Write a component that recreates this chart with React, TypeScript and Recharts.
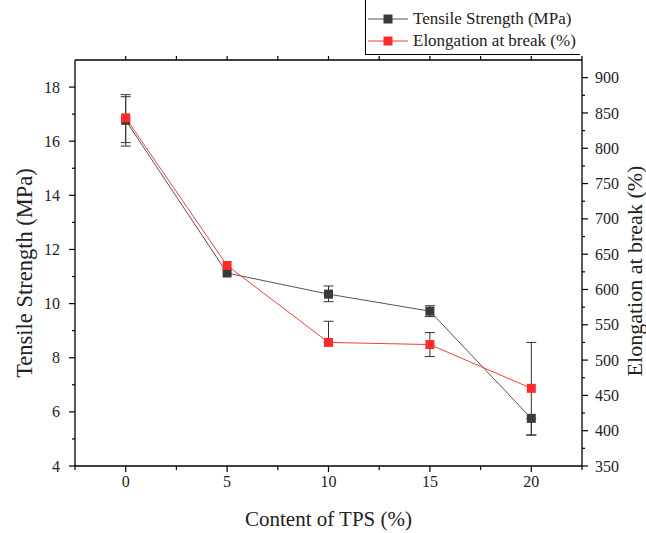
import { ComposedChart, ErrorBar, Legend, Line, XAxis, YAxis } from 'recharts'

// Tensile strength and elongation at break vs. TPS content, Origin-style double-Y plot.
const TPS_CONTENT = [0, 5, 10, 15, 20]
const TENSILE_MPA = [16.77, 11.13, 10.35, 9.72, 5.76]
const TENSILE_ERR = [[0.95, 0.95], null, [0.28, 0.3], [0.2, 0.2], [0.62, 0]]
const ELONGATION_PCT = [843, 634, 525, 522, 460]
const ELONGATION_ERR = [[35, 30], null, [0, 30], [17, 17], [66, 65]]

const X_TICKS = [-2.5, 0, 2.5, 5, 7.5, 10, 12.5, 15, 17.5, 20, 22.5]
const LEFT_TICKS = [4, 5, 6, 7, 8, 9, 10, 11, 12, 13, 14, 15, 16, 17, 18]
const RIGHT_TICKS = [
  350, 375, 400, 425, 450, 475, 500, 525, 550, 575, 600, 625, 650, 675, 700, 725, 750, 775, 800,
  825, 850, 875, 900,
]
const LEGEND_ORDER = ['tensile', 'elongation']

const FONT = '"Liberation Serif", "Times New Roman", serif'
const TEXT_COLOR = '#222'
const AXIS_COLOR = '#000'
const TEXT_STYLE = { fontFamily: FONT }

const SERIES = {
  tensile: { line: '#555', marker: '#3a3a3a' },
  elongation: { line: '#ee4040', marker: '#ff2a2a' },
}

const data = TPS_CONTENT.map((tps, i) => ({
  tps,
  tensile: TENSILE_MPA[i],
  tensileErr: TENSILE_ERR[i],
  elongation: ELONGATION_PCT[i],
  elongationErr: ELONGATION_ERR[i],
}))

const LEFT_MARGIN = 15
const RIGHT_MARGIN = 13
const BOTTOM_MARGIN = 9

function LeftTick({ x, y, payload }: any) {
  const axisX = x + LEFT_MARGIN
  const major = payload.value % 2 === 0
  return (
    <g>
      <line x1={axisX} x2={axisX - (major ? 6 : 3)} y1={y} y2={y} stroke={AXIS_COLOR} strokeWidth={1.2} />
      {major && (
        <text x={x} y={y} dy="0.35em" textAnchor="end" fontSize={16} style={TEXT_STYLE} fill={TEXT_COLOR}>
          {payload.value}
        </text>
      )}
    </g>
  )
}

function RightTick({ x, y, payload }: any) {
  const axisX = x - RIGHT_MARGIN
  const major = payload.value % 50 === 0
  return (
    <g>
      <line x1={axisX} x2={axisX + (major ? 6 : 3)} y1={y} y2={y} stroke={AXIS_COLOR} strokeWidth={1.2} />
      {major && (
        <text x={x} y={y} dy="0.35em" textAnchor="start" fontSize={16} style={TEXT_STYLE} fill={TEXT_COLOR}>
          {payload.value}
        </text>
      )}
    </g>
  )
}

function BottomTick({ x, y, payload }: any) {
  const axisY = y - BOTTOM_MARGIN
  const major = payload.value % 5 === 0
  return (
    <g>
      <line x1={x} x2={x} y1={axisY} y2={axisY + (major ? 6 : 4)} stroke={AXIS_COLOR} strokeWidth={1.2} />
      {major && (
        <text x={x} y={y} dy="0.75em" textAnchor="middle" fontSize={16} style={TEXT_STYLE} fill={TEXT_COLOR}>
          {payload.value}
        </text>
      )}
    </g>
  )
}

function TopTick({ x, y }: any) {
  return <line x1={x} x2={x} y1={y} y2={y - 4} stroke={AXIS_COLOR} strokeWidth={1.2} />
}

function AxisTitle({ viewBox, value, dx = 0, dy = 0, size = 20, rotate = false }: any) {
  const cx = viewBox.x + viewBox.width / 2 + dx
  const cy = viewBox.y + viewBox.height / 2 + dy
  return (
    <text
      x={cx}
      y={cy}
      dy="0.35em"
      textAnchor="middle"
      fontSize={size}
      style={TEXT_STYLE}
      fill={TEXT_COLOR}
      transform={rotate ? `rotate(-90, ${cx}, ${cy})` : undefined}
    >
      {value}
    </text>
  )
}

function SquareDot({ cx, cy, fill }: any) {
  if (cx == null || cy == null) return null
  return <rect x={cx - 4.5} y={cy - 4.5} width={9} height={9} fill={fill} />
}

function LegendBox({ payload }: any) {
  const entries = [...(payload ?? [])].sort(
    (a: any, b: any) => LEGEND_ORDER.indexOf(a.dataKey) - LEGEND_ORDER.indexOf(b.dataKey),
  )
  return (
    <div
      style={{
        borderLeft: '1px solid #000',
        borderBottom: '1px solid #000',
        height: 55,
        boxSizing: 'border-box',
        paddingTop: 8,
        fontFamily: FONT,
        fontSize: 17,
        color: TEXT_COLOR,
      }}
    >
      {entries.map((entry: any) => {
        const style = SERIES[entry.dataKey as keyof typeof SERIES]
        return (
          <div key={entry.dataKey} style={{ display: 'flex', alignItems: 'center', height: 22 }}>
            <svg width={44} height={12} style={{ marginRight: 3 }}>
              <line x1={2} x2={42} y1={6} y2={6} stroke={style.line} strokeWidth={1} />
              <rect x={17.5} y={1.5} width={9} height={9} fill={style.marker} />
            </svg>
            <span style={{ whiteSpace: 'nowrap' }}>{entry.value}</span>
          </div>
        )
      })}
    </div>
  )
}

export default function App() {
  return (
    <div style={{ position: 'absolute', left: 0, top: 0, background: '#fff' }}>
      <ComposedChart width={646} height={533} data={data} margin={{ top: 50, right: 0, bottom: 0, left: 0 }}>
        <XAxis
          xAxisId="bottom"
          dataKey="tps"
          type="number"
          domain={[-2.5, 22.5]}
          ticks={X_TICKS}
          interval={0}
          height={67}
          tickSize={0}
          tickMargin={BOTTOM_MARGIN}
          tick={<BottomTick />}
          axisLine={{ stroke: AXIS_COLOR, strokeWidth: 1.3 }}
          label={<AxisTitle value="Content of TPS (%)" dy={19} size={21} />}
        />
        <XAxis
          xAxisId="top"
          orientation="top"
          dataKey="tps"
          type="number"
          domain={[-2.5, 22.5]}
          ticks={X_TICKS.slice(1)}
          interval={0}
          height={10}
          tickSize={0}
          tickMargin={0}
          tick={<TopTick />}
          axisLine={{ stroke: AXIS_COLOR, strokeWidth: 1.3 }}
        />
        <YAxis
          yAxisId="left"
          domain={[4, 19]}
          ticks={LEFT_TICKS}
          interval={0}
          width={75}
          tickSize={0}
          tickMargin={LEFT_MARGIN}
          tick={<LeftTick />}
          axisLine={{ stroke: AXIS_COLOR, strokeWidth: 1.3 }}
          label={<AxisTitle value="Tensile Strength (MPa)" dx={-13} dy={10} size={22.5} rotate />}
        />
        <YAxis
          yAxisId="right"
          orientation="right"
          domain={[350, 925]}
          ticks={RIGHT_TICKS}
          interval={0}
          width={64}
          tickSize={0}
          tickMargin={RIGHT_MARGIN}
          tick={<RightTick />}
          axisLine={{ stroke: AXIS_COLOR, strokeWidth: 1.3 }}
          label={<AxisTitle value="Elongation at break (%)" dx={20} dy={8} size={22} rotate />}
        />
        <Legend
          layout="vertical"
          align="center"
          verticalAlign="middle"
          wrapperStyle={{ position: 'absolute', left: 365, top: 0, width: 215, height: 55 }}
          content={<LegendBox />}
        />
        <Line
          xAxisId="bottom"
          yAxisId="left"
          dataKey="tensile"
          name="Tensile Strength (MPa)"
          stroke={SERIES.tensile.line}
          strokeWidth={1}
          dot={<SquareDot fill={SERIES.tensile.marker} />}
          activeDot={false}
          isAnimationActive={false}
        >
          <ErrorBar dataKey="tensileErr" width={5} stroke="#333" strokeWidth={1} direction="y" />
        </Line>
        <Line
          xAxisId="bottom"
          yAxisId="right"
          dataKey="elongation"
          name="Elongation at break (%)"
          stroke={SERIES.elongation.line}
          strokeWidth={1}
          dot={<SquareDot fill={SERIES.elongation.marker} />}
          activeDot={false}
          isAnimationActive={false}
        >
          <ErrorBar dataKey="elongationErr" width={5} stroke="#333" strokeWidth={1} direction="y" />
        </Line>
      </ComposedChart>
    </div>
  )
}
